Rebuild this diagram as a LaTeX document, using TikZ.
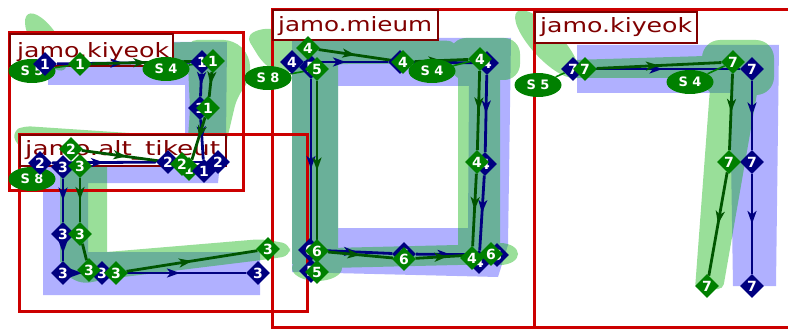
\documentclass[tikz,border=0pt]{standalone}
\usepackage{fontspec}
\setmainfont{DejaVu Sans}
\usepackage{graphicx}
\usetikzlibrary{shapes.geometric,arrows.meta,decorations.markings}
\pgfdeclarelayer{bg}
\pgfdeclarelayer{fg}
\pgfsetlayers{bg,main,fg}
\definecolor{boxred}{RGB}{204,0,0}
\definecolor{lblred}{RGB}{128,0,0}
\definecolor{navyc}{RGB}{0,0,128}
\definecolor{gdia}{RGB}{0,128,0}
\definecolor{gline}{RGB}{0,85,0}
\definecolor{gfillc}{RGB}{0,174,0}
\definecolor{bfillc}{RGB}{0,0,255}
\begin{document}
\begin{tikzpicture}[x=1pt,y=-1pt,
  bfill/.style={fill=bfillc, fill opacity=0.31},
  ggroup/.style={transparency group, opacity=0.4},
  redbox/.style={draw=boxred, line width=3pt},
  lblbox/.style={draw=lblred, line width=1.8pt, fill=white},
  lbltext/.style={text=lblred, inner sep=0pt, anchor=base west},
  nd/.style={diamond, fill=navyc, text=white, inner sep=0pt, minimum width=24pt, minimum height=24pt, font=\bfseries\fontsize{14}{14}\selectfont},
  gd/.style={nd, fill=gdia},
  sel/.style={ellipse, fill=gdia, text=white, inner sep=0pt, minimum width=47pt, minimum height=24pt, font=\bfseries\fontsize{13}{13}\selectfont},
  midarr/.style={postaction={decorate, decoration={markings, mark=at position 0.5 with {\arrow{Stealth[length=13pt,width=9pt,inset=3.5pt]}}}}},
  nl/.style={color=navyc, line width=2.8pt, midarr},
  gl/.style={color=gline, line width=2.8pt, midarr},
  nlp/.style={color=navyc, line width=2.8pt},
  glp/.style={color=gline, line width=2.8pt},
  tl/.style={color=gdia, line width=1.6pt},
]
\useasboundingbox (0,0) rectangle (788,329);

\begin{pgfonlayer}{bg}
% ---- blue glyph areas
\fill[bfill] (48,42) -- (227,42) -- (226,142) -- (185,142) -- (185,85) -- (48,85) -- cycle;
\fill[bfill] (43,143) -- (222,143) -- (218,183) -- (88,183) -- (88,252) -- (260,252) -- (260,295) -- (43,295) -- cycle;
\fill[bfill, even odd rule] (292,38) -- (511,38) -- (508,245) -- (498,277) -- (292,272) -- cycle
   (338,86) -- (469,86) -- (468,228) -- (338,228) -- cycle;
\fill[bfill] (577,45) -- (779,45) -- (776,286) -- (733,286) -- (730,93) -- (577,93) -- cycle;

% ---- green glyph areas
\begin{scope}[ggroup]
  \fill[gfillc, rotate around={-57:(46,42)}] (46,42) ellipse [x radius=33pt, y radius=13pt];
  \fill[gfillc] (44,44) -- (200,42) -- (200,64) -- (56,66) -- cycle;
  \fill[gfillc, rounded corners=10pt] (187,40) -- (234,40) -- (250,56) -- (250,80) -- (237,97) -- (221,165) -- (186,165) -- (190,110) -- cycle;
\end{scope}
\begin{scope}[ggroup]
  \fill[gfillc, rounded corners=7pt] (13,131) -- (24,126) -- (219,139) -- (220,162) -- (60,160) -- (16,145) -- cycle;
  \fill[gfillc] (60,150) -- (107,150) -- (107,258) -- (60,262) -- cycle;
  \fill[gfillc, rounded corners=8pt] (62,255) -- (107,252) -- (262,239) -- (290,244) -- (290,256) -- (262,260) -- (107,279) -- (82,284) -- (60,272) -- cycle;
\end{scope}
\begin{scope}[ggroup]
  \fill[gfillc, rounded corners=8pt] (246,36) -- (262,28) -- (300,32) -- (347,38) -- (456,41) -- (456,64) -- (340,64) -- (300,70) -- (278,74) -- (262,62) -- cycle;
  \fill[gfillc, rounded corners=16pt] (450,38) rectangle (520,80);
  \fill[gfillc] (458,66) rectangle (500,256);
  \fill[gfillc] (292,56) rectangle (338,264);
  \fill[gfillc] (317,268) ellipse [x radius=25pt, y radius=13pt];
  \fill[gfillc] (330,248) -- (500,244) -- (500,264) -- (330,268) -- cycle;
  \fill[gfillc] (500,254) ellipse [x radius=18pt, y radius=11pt];
\end{scope}
\begin{scope}[ggroup]
  \fill[gfillc, rotate around={-47:(547,44)}] (547,44) ellipse [x radius=44pt, y radius=15pt];
  \fill[gfillc] (572,60) -- (705,56) -- (705,78) -- (572,78) -- cycle;
  \fill[gfillc, rounded corners=18pt] (702,40) rectangle (774,95);
  \fill[gfillc, rounded corners=5pt] (710,88) -- (758,88) -- (723,289) -- (695,289) -- cycle;
\end{scope}

% ---- red frames
\draw[redbox] (9,33) rectangle (243,190);
\draw[redbox] (19,134) rectangle (307,311);
\draw[redbox] (272,10) rectangle (534,327);
\draw[redbox] (534,10) rectangle (795,327);

% ---- labels
\draw[lblbox] (10,34) rectangle (173,66);
\node[lbltext] (tA) at (17,58) {\resizebox{152pt}{15pt}{jamo.kiyeok}};
\draw[lblbox] (20,135) rectangle (226,166);
\node[lbltext] (tB) at (25,155) {\resizebox{195pt}{15pt}{jamo.alt\_tikeut}};
\draw[lblbox] (273,10) rectangle (438,40);
\node[lbltext] (tC) at (278,32) {\resizebox{154pt}{15pt}{jamo.mieum}};
\draw[lblbox] (535,12) rectangle (697,43);
\node[lbltext] (tD) at (540,33) {\resizebox{152pt}{15pt}{jamo.kiyeok}};
\end{pgfonlayer}

\begin{pgfonlayer}{fg}
% ---- ellipses
\node[sel] (aS5) at (32,71) {S 5};
\node[sel] (aS4) at (166,69) {S 4};
\node[sel] (bS8) at (32,179) {S 8};
\node[sel] (cS8) at (268,78) {S 8};
\node[sel] (cS4) at (432,71) {S 4};
\node[sel] (dS5) at (538,85) {S 5};
\node[sel] (dS4) at (690,82) {S 4};
% ---- region A
\node[nd] (aN1) at (45,64) {1};
\node[nd] (aN2) at (202,62) {1};
\node[nd] (aN3) at (200,108) {1};
\node[gd] (aG1) at (80,64) {1};
\node[gd] (aG2) at (213,61) {1};
\node[gd] (aG3) at (208,108) {1};
\node[gd] (aG4) at (189,169) {1};
\node[nd] (aN4) at (204,171) {1};
% ---- region B
\node[nd] (bN2a) at (40,163) {2};
\node[nd] (bN3a) at (63,167) {3};
\node[nd] (bN2b) at (168,162) {2};
\node[nd] (bN2c) at (218,162) {2};
\node[nd] (bN3b) at (63,234) {3};
\node[nd] (bN3c) at (63,273) {3};
\node[nd] (bN3d) at (102,273) {3};
\node[nd] (bN3e) at (258,273) {3};
\node[gd] (bG2a) at (71,149) {2};
\node[gd] (bG3a) at (80,166) {3};
\node[gd] (bG2b) at (182,164) {2};
\node[gd] (bG3b) at (80,234) {3};
\node[gd] (bG3c) at (89,270) {3};
\node[gd] (bG3d) at (116,273) {3};
\node[gd] (bG3e) at (268,249) {3};
% ---- region C
\node[nd] (cN4a) at (292,62) {4};
\node[nd] (cN5a) at (311,67) {5};
\node[nd] (cN4x) at (400,62) {4};
\node[nd] (cN4b) at (487,63) {4};
\node[nd] (cN4c) at (485,164) {4};
\node[nd] (cN6a) at (310,250) {6};
\node[nd] (cN5b) at (311,271) {5};
\node[nd] (cN6b) at (404,254) {6};
\node[nd] (cN4d) at (479,262) {4};
\node[nd] (cN6c) at (497,255) {6};
\node[gd] (cG4a) at (308,48) {4};
\node[gd] (cG5a) at (317,69) {5};
\node[gd] (cG4b) at (403,62) {4};
\node[gd] (cG4c) at (480,59) {4};
\node[gd] (cG4d) at (477,162) {4};
\node[gd] (cG6a) at (317,251) {6};
\node[gd] (cG5b) at (317,272) {5};
\node[gd] (cG6b) at (404,259) {6};
\node[gd] (cG4e) at (472,258) {4};
\node[gd] (cG6c) at (491,254) {6};
% ---- region D
\node[nd] (dN7a) at (573,69) {7};
\node[nd] (dN7b) at (752,69) {7};
\node[nd] (dN7c) at (752,162) {7};
\node[nd] (dN7d) at (752,286) {7};
\node[gd] (dG7a) at (585,69) {7};
\node[gd] (dG7b) at (733,62) {7};
\node[gd] (dG7c) at (729,162) {7};
\node[gd] (dG7d) at (707,286) {7};
\end{pgfonlayer}

% ---- connectors, region A
\draw[nl] (aN1) -- (aN2);
\draw[nl] (aN2) -- (aN3);
\draw[nl] (aN3) -- (aN4);
\draw[gl] (aG1) -- (aG2);
\draw[gl] (aG2) -- (aG3);
\draw[gl] (aG3) -- (aG4);
\draw[tl] (aS5) -- (aG1);
\draw[tl] (aS4) -- (aG2);
% ---- region B
\draw[nl] (bN2a) -- (bN2b);
\draw[nlp] (bN2b) -- (bN2c);
\draw[nl] (bN3a) -- (bN3b);
\draw[nl] (bN3b) -- (bN3c);
\draw[nl] (bN3c) -- (bN3d);
\draw[nl] (bN3d) -- (bN3e);
\draw[gl] (bG2a) -- (bG2b);
\draw[gl] (bG3a) -- (bG3b);
\draw[glp] (bG3b) -- (bG3c);
\draw[glp] (bG3c) -- (bG3d);
\draw[gl] (bG3d) -- (bG3e);
% ---- region C
\draw[nl] (cN4a) -- (cN4x);
\draw[nl] (cN4x) -- (cN4b);
\draw[nl] (cN4b) -- (cN4c);
\draw[nl] (cN4c) -- (cN4d);
\draw[gl] (cG4a) -- (cG4b);
\draw[gl] (cG4b) -- (cG4c);
\draw[gl] (cG4c) -- (cG4d);
\draw[gl] (cG4d) -- (cG4e);
\draw[nl] (cN5a) -- (cN5b);
\draw[gl] (cG5a) -- (cG5b);
\draw[nl] (cN6a) -- (cN6b);
\draw[nl] (cN6b) -- (cN6c);
\draw[gl] (cG6a) -- (cG6b);
\draw[gl] (cG6b) -- (cG6c);
\draw[tl] (cS8) -- (cG5a);
\draw[tl] (cS4) -- (cG4c);
% ---- region D
\draw[nl] (dN7a) -- (dN7b);
\draw[nl] (dN7b) -- (dN7c);
\draw[nl] (dN7c) -- (dN7d);
\draw[gl] (dG7a) -- (dG7b);
\draw[gl] (dG7b) -- (dG7c);
\draw[gl] (dG7c) -- (dG7d);
\draw[tl] (dS5) -- (dN7a);
\draw[tl] (dS4) -- (dG7b);
\end{tikzpicture}
\end{document}
